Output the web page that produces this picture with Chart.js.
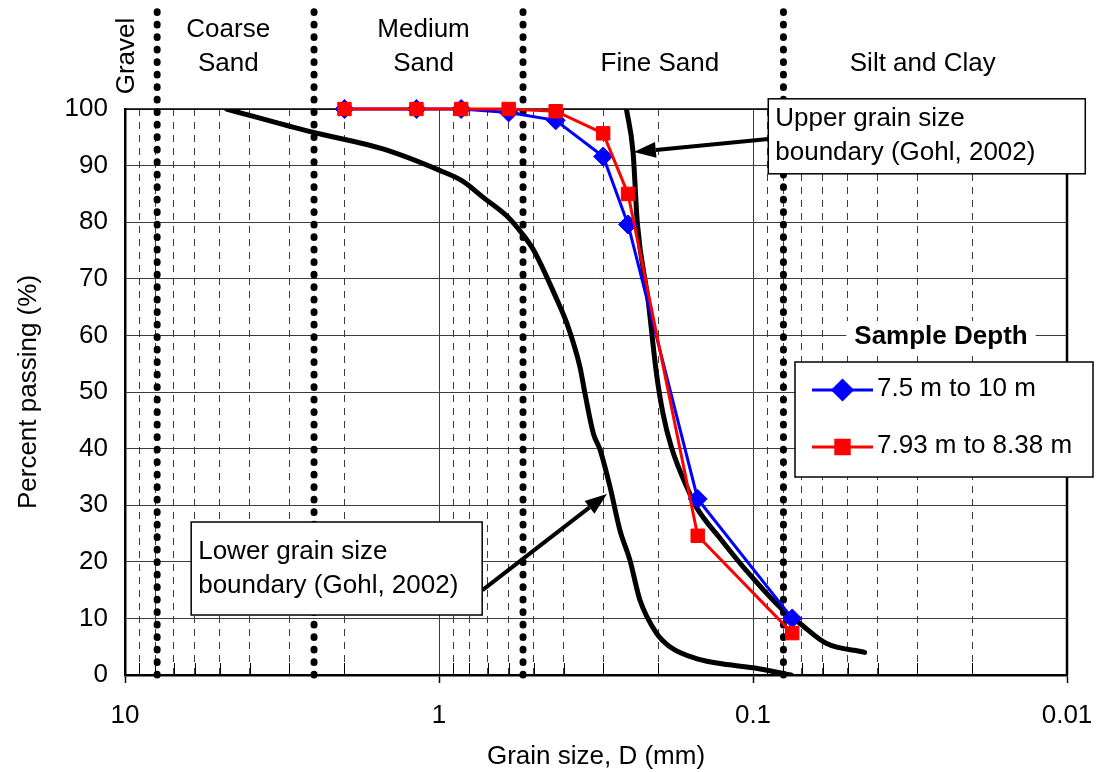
<!DOCTYPE html>
<html>
<head>
<meta charset="utf-8">
<title>Grain size distribution</title>
<script src="https://cdn.jsdelivr.net/npm/chart.js@4.4.1/dist/chart.umd.min.js"></script>
<style>
  html, body { margin: 0; padding: 0; background: #fff; }
  #wrap { width: 1097px; height: 772px; position: relative; }
</style>
</head>
<body>
<div id="wrap"><canvas id="gsd"></canvas></div>
<script>
// ---- Sieve analysis results (grain size in mm, percent passing) ----
const sieveSizes = [2.0, 1.18, 0.85, 0.6, 0.425, 0.3, 0.25, 0.15, 0.075];
const passingDepthA = [100, 100, 100, 99.4, 98.0, 91.6, 79.6, 31.1, 10.0];   // 7.5 m to 10 m
const passingDepthB = [100, 100, 100, 100, 99.6, 95.7, 85.0, 24.6, 7.4];     // 7.93 m to 8.38 m
const seriesNames = ['7.5 m to 10 m', '7.93 m to 8.38 m'];

// ---- Gohl (2002) grain size envelope ----
const upperBoundSize = [0.253, 0.241, 0.2335, 0.2159, 0.2030, 0.1935, 0.1820, 0.1592, 0.1517, 0.1263, 0.1052, 0.0804, 0.0712, 0.0585, 0.0441];
const upperBoundPassing = [100, 92.4, 79.8, 66.3, 53.3, 46.2, 40.3, 32.1, 29.7, 23.9, 18.5, 11.5, 9.2, 5.6, 4.0];
const lowerBoundSize = [4.75, 2.57, 1.50, 1.0, 0.843, 0.72, 0.60, 0.544, 0.50, 0.421, 0.392, 0.356, 0.343, 0.3225, 0.307, 0.2855, 0.2654, 0.2466, 0.2293, 0.203, 0.184, 0.1516, 0.119, 0.0978, 0.0756];
const lowerBoundPassing = [100, 96, 92.9, 89.2, 87.3, 84.3, 80.8, 78.0, 75.1, 66.3, 62.2, 54.5, 49.8, 42.7, 39.8, 33.3, 25.6, 20.3, 13.3, 7.4, 5.0, 2.9, 1.8, 1.2, 0];

// ---- Soil classification zones ----
const zoneBounds = [7.9, 2.5, 0.54, 0.08];          // divider sizes (mm)
const zoneDividerTop = 118.5;                        // dividers run up into the header
const zoneNames = [['Gravel'], ['Coarse', 'Sand'], ['Medium', 'Sand'], ['Fine Sand'], ['Silt and Clay']];
const zoneLabelSizes = [9.85, 4.69, 1.12, 0.198, 0.0288];

// ---- Axis ticks ----
const xDecades = [10, 1, 0.1, 0.01];
const xTickLabels = ['10', '1', '0.1', '0.01'];
const xMinorMultipliers = [2, 3, 4, 5, 6, 7, 8, 9];
const yTickValues = [0, 10, 20, 30, 40, 50, 60, 70, 80, 90, 100];

// ---- Callouts (anchored in data units) ----
const callouts = [
  { lines: ['Upper grain size', 'boundary (Gohl, 2002)'],
    box: { x: 0.0894, y: 101.8, w: 317, h: 75 },
    from: { x: 0.0894, y: 94.7 }, to: { x: 0.2396, y: 92.4 } },
  { lines: ['Lower grain size', 'boundary (Gohl, 2002)'],
    box: { x: 6.155, y: 27.03, w: 291, h: 93 },
    from: { x: 0.727, y: 15.0 }, to: { x: 0.2918, y: 31.98 } }
];

const FONT = '"Liberation Sans", Arial, Helvetica, sans-serif';
const FS = 26;
const GRID = '#3c3c3c';
const BLUE = '#0000ff';
const RED = '#ff0000';

const isDecade = v => xDecades.some(d => Math.abs(Math.log10(v) - Math.log10(d)) < 1e-6);
const pts = (xs, ys) => xs.map((x, i) => ({ x, y: ys[i] }));

// frame (top thin, right heavy) and inner minor ticks
const framePlugin = {
  id: 'frame',
  beforeDatasetsDraw(chart) {
    const { ctx, chartArea: a, scales: { x } } = chart;
    ctx.save();
    ctx.strokeStyle = '#000';
    ctx.lineWidth = 1.5;
    ctx.beginPath(); ctx.moveTo(a.left, a.top); ctx.lineTo(a.right, a.top); ctx.stroke();
    ctx.lineWidth = 2.5;
    ctx.beginPath(); ctx.moveTo(a.right, a.top - 0.75); ctx.lineTo(a.right, a.bottom); ctx.stroke();
    ctx.lineWidth = 1;
    x.ticks.forEach(t => {
      if (isDecade(t.value)) return;
      const px = Math.round(x.getPixelForValue(t.value)) + 0.5;
      ctx.beginPath(); ctx.moveTo(px, a.bottom); ctx.lineTo(px, a.bottom - 12); ctx.stroke();
    });
    ctx.restore();
  }
};

// zone names above the plot
const zoneHeaderPlugin = {
  id: 'zoneHeaders',
  afterDraw(chart) {
    const { ctx, scales: { x } } = chart;
    ctx.save();
    ctx.font = `${FS}px ${FONT}`;
    ctx.fillStyle = '#000';
    ctx.textAlign = 'center';
    ctx.textBaseline = 'middle';
    zoneNames.forEach((lines, i) => {
      const px = x.getPixelForValue(zoneLabelSizes[i]);
      if (i === 0) {
        ctx.save();
        ctx.translate(px, 56);
        ctx.rotate(-Math.PI / 2);
        ctx.fillText(lines[0], 0, 0);
        ctx.restore();
      } else if (lines.length === 2) {
        ctx.fillText(lines[0], px, 30);
        ctx.fillText(lines[1], px, 64);
      } else {
        ctx.fillText(lines[0], px, 64);
      }
    });
    ctx.restore();
  }
};

// boxed callouts with arrows
const calloutPlugin = {
  id: 'callouts',
  afterDraw(chart) {
    const { ctx, scales: { x, y } } = chart;
    ctx.save();
    callouts.forEach(c => {
      const fx = x.getPixelForValue(c.from.x), fy = y.getPixelForValue(c.from.y);
      const tx = x.getPixelForValue(c.to.x), ty = y.getPixelForValue(c.to.y);
      const ang = Math.atan2(ty - fy, tx - fx);
      const headLen = 22, headHalf = 8;
      const bx = tx - headLen * Math.cos(ang), by = ty - headLen * Math.sin(ang);
      ctx.strokeStyle = '#000';
      ctx.fillStyle = '#000';
      ctx.lineWidth = 4;
      ctx.beginPath(); ctx.moveTo(fx, fy); ctx.lineTo(bx, by); ctx.stroke();
      ctx.beginPath();
      ctx.moveTo(tx, ty);
      ctx.lineTo(bx + headHalf * Math.sin(ang), by - headHalf * Math.cos(ang));
      ctx.lineTo(bx - headHalf * Math.sin(ang), by + headHalf * Math.cos(ang));
      ctx.closePath(); ctx.fill();

      const left = x.getPixelForValue(c.box.x), top = y.getPixelForValue(c.box.y);
      ctx.fillStyle = '#fff';
      ctx.fillRect(left, top, c.box.w, c.box.h);
      ctx.lineWidth = 1.5;
      ctx.strokeStyle = '#000';
      ctx.strokeRect(left, top, c.box.w, c.box.h);
      ctx.fillStyle = '#000';
      ctx.font = `${FS}px ${FONT}`;
      ctx.textAlign = 'left';
      ctx.textBaseline = 'middle';
      const cy = top + c.box.h / 2;
      ctx.fillText(c.lines[0], left + 7, cy - 17);
      ctx.fillText(c.lines[1], left + 7, cy + 17);
    });
    ctx.restore();
  }
};

// legend with title
const legendLayout = { left: 795, top: 362, width: 298, height: 115, titleX: 941, titleY: 337,
                       lineX0: 812, lineX1: 873, textX: 877, rowY: [390, 447] };
const legendPlugin = {
  id: 'depthLegend',
  afterDraw(chart) {
    const { ctx } = chart;
    const L = legendLayout;
    ctx.save();
    ctx.font = `bold ${FS}px ${FONT}`;
    const tw = ctx.measureText('Sample Depth').width;
    ctx.fillStyle = '#fff';
    ctx.fillRect(L.titleX - tw / 2 - 8, L.titleY - 16, tw + 16, 32);
    ctx.fillStyle = '#000';
    ctx.textAlign = 'center';
    ctx.textBaseline = 'middle';
    ctx.fillText('Sample Depth', L.titleX, L.titleY);

    ctx.fillStyle = '#fff';
    ctx.fillRect(L.left, L.top, L.width, L.height);
    ctx.strokeStyle = '#000';
    ctx.lineWidth = 1.5;
    ctx.strokeRect(L.left, L.top, L.width, L.height);

    chart.data.datasets.filter(d => d.inLegend).forEach((d, i) => {
      const yy = L.rowY[i];
      ctx.strokeStyle = d.borderColor;
      ctx.lineWidth = d.borderWidth;
      ctx.beginPath(); ctx.moveTo(L.lineX0, yy); ctx.lineTo(L.lineX1, yy); ctx.stroke();
      Chart.helpers.drawPoint(ctx, {
        pointStyle: d.pointStyle, radius: d.pointRadius, borderWidth: d.pointBorderWidth, rotation: 0
      }, (L.lineX0 + L.lineX1) / 2, yy);
      ctx.fillStyle = d.backgroundColor;
      ctx.strokeStyle = d.borderColor;
      ctx.lineWidth = d.pointBorderWidth;
      ctx.fill(); ctx.stroke();
      ctx.fillStyle = '#000';
      ctx.font = `${FS}px ${FONT}`;
      ctx.textAlign = 'left';
      ctx.textBaseline = 'middle';
      ctx.fillText(d.label, L.textX, yy - 1);
    });
    ctx.restore();
  }
};

const zoneDatasets = zoneBounds.map(b => ({
  label: '',
  data: [{ x: b, y: 0 }, { x: b, y: zoneDividerTop }],
  borderColor: '#000',
  borderWidth: 7,
  borderDash: [0.8, 11.7],
  borderCapStyle: 'round',
  pointRadius: 0,
  clip: false,
  order: 5
}));

new Chart(document.getElementById('gsd'), {
  type: 'line',
  data: {
    datasets: [
      ...zoneDatasets,
      { label: 'Lower boundary', data: pts(lowerBoundSize, lowerBoundPassing),
        borderColor: '#000', borderWidth: 5, pointRadius: 0, cubicInterpolationMode: 'monotone',
        borderJoinStyle: 'round', borderCapStyle: 'round', order: 4 },
      { label: 'Upper boundary', data: pts(upperBoundSize, upperBoundPassing),
        borderColor: '#000', borderWidth: 5, pointRadius: 0, cubicInterpolationMode: 'monotone',
        borderJoinStyle: 'round', borderCapStyle: 'round', order: 3 },
      { label: seriesNames[0], inLegend: true, data: pts(sieveSizes, passingDepthA),
        borderColor: BLUE, backgroundColor: BLUE, borderWidth: 3,
        pointStyle: 'rectRot', pointRadius: 9.5, pointBorderWidth: 1,
        pointBackgroundColor: BLUE, pointBorderColor: BLUE, clip: false, order: 2 },
      { label: seriesNames[1], inLegend: true, data: pts(sieveSizes, passingDepthB),
        borderColor: RED, backgroundColor: RED, borderWidth: 3,
        pointStyle: 'rect', pointRadius: 9.5, pointBorderWidth: 1,
        pointBackgroundColor: RED, pointBorderColor: RED, clip: false, order: 1 }
    ]
  },
  options: {
    responsive: true,
    maintainAspectRatio: false,
    animation: false,
    events: [],
    layout: { padding: { top: 109, right: 30, left: 0, bottom: 0 } },
    plugins: { legend: { display: false }, tooltip: { enabled: false } },
    scales: {
      x: {
        type: 'logarithmic',
        reverse: true,
        min: 0.01,
        max: 10,
        afterBuildTicks(scale) {
          const vals = [];
          for (let i = xDecades.length - 1; i > 0; i--) {
            const d = xDecades[i];
            vals.push(d);
            xMinorMultipliers.forEach(m => vals.push(+(d * m).toPrecision(6)));
          }
          vals.push(xDecades[0]);
          scale.ticks = vals.map(v => ({ value: v, major: isDecade(v) }));
        },
        afterFit(scale) { scale.height = 97; scale.paddingLeft = 0; scale.paddingRight = 0; },
        ticks: {
          autoSkip: false,
          maxRotation: 0,
          padding: 17,
          color: '#000',
          font: { family: FONT, size: FS },
          callback(value) {
            const i = xDecades.findIndex(d => Math.abs(Math.log10(value) - Math.log10(d)) < 1e-6);
            return i >= 0 ? xTickLabels[i] : '';
          }
        },
        grid: {
          color: GRID,
          lineWidth: 1,
          drawTicks: true,
          tickLength: 8,
          tickWidth: 1.5,
          tickColor: ctx => (ctx.tick && isDecade(ctx.tick.value)) ? '#000' : 'rgba(0,0,0,0)'
        },
        border: {
          color: '#000',
          width: 2.5,
          dash: ctx => (ctx.tick && !isDecade(ctx.tick.value)) ? [7, 6] : []
        },
        title: {
          display: true,
          text: 'Grain size, D (mm)',
          color: '#000',
          font: { family: FONT, size: FS },
          padding: { top: 0, bottom: 0 }
        }
      },
      y: {
        type: 'linear',
        min: 0,
        max: 100,
        afterBuildTicks(scale) { scale.ticks = yTickValues.map(v => ({ value: v })); },
        afterFit(scale) { scale.width = 125; scale.paddingTop = 0; scale.paddingBottom = 0; },
        ticks: {
          padding: 17,
          color: '#000',
          font: { family: FONT, size: FS },
          callback: v => String(v)
        },
        grid: { color: GRID, lineWidth: 1, drawTicks: false },
        border: { color: '#000', width: 2.5 },
        title: {
          display: true,
          text: 'Percent passing (%)',
          color: '#000',
          font: { family: FONT, size: FS },
          padding: { top: 13, bottom: 0 }
        }
      }
    }
  },
  plugins: [framePlugin, zoneHeaderPlugin, calloutPlugin, legendPlugin]
});
</script>
</body>
</html>
